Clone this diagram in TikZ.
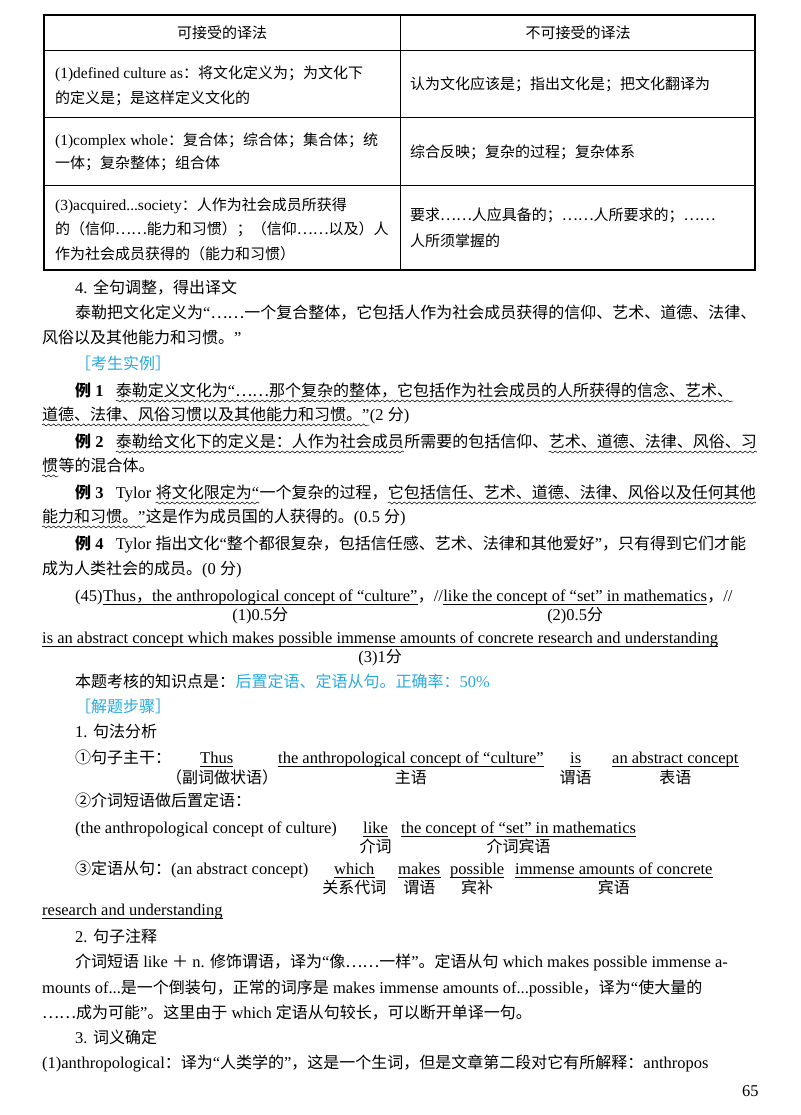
\documentclass[tikz,border=0pt]{standalone}
\usepackage{fontspec}
\usetikzlibrary{decorations.pathmorphing}
\setmainfont[Scale=1.03]{Liberation Serif}
\newfontfamily\cjkf{Noto Sans CJK SC}
\XeTeXinterchartokenstate=1
\newXeTeXintercharclass\CJKclass
\count255="4E00 \loop \XeTeXcharclass\count255=\CJKclass \advance\count255 1 \ifnum\count255<"A000 \repeat
\count255="3000 \loop \XeTeXcharclass\count255=\CJKclass \advance\count255 1 \ifnum\count255<"3040 \repeat
\count255="FF00 \loop \XeTeXcharclass\count255=\CJKclass \advance\count255 1 \ifnum\count255<"FFF0 \repeat
\XeTeXcharclass"2026=\CJKclass
\XeTeXcharclass"2460=\CJKclass \XeTeXcharclass"2461=\CJKclass \XeTeXcharclass"2462=\CJKclass
\XeTeXinterchartoks 0 \CJKclass = {\cjkf}
\XeTeXinterchartoks 4095 \CJKclass = {\cjkf}
\XeTeXinterchartoks \CJKclass 0 = {\rmfamily}
\XeTeXinterchartoks \CJKclass 4095 = {\rmfamily}
\definecolor{tblue}{RGB}{40,170,225}
\newcommand\fs{\fontsize{16}{20}\selectfont}
\newcommand\fss{\fontsize{15}{19}\selectfont}
\tikzset{
 t/.style={anchor=base west,inner sep=0pt,font=\fs},
 tc/.style={anchor=base,inner sep=0pt,font=\fs},
 ts/.style={anchor=base west,inner sep=0pt,font=\fss},
 ul/.style={line width=0.6pt},
 wv/.style={line width=0.5pt,decorate,decoration={snake,amplitude=1pt,segment length=5pt}},
 rule/.style={line width=0.7pt}
}
\newcommand\U[1]{\draw[ul] ([yshift=-3pt]#1.base west) -- ([yshift=-3pt]#1.base east);}
\newcommand\W[1]{\draw[wv] ([yshift=-5pt]#1.base west) -- ([yshift=-5pt]#1.base east);}
\newcommand\Li[1]{\textbf{例 #1}}
\begin{document}
\begin{tikzpicture}[x=1pt,y=-1pt]
\useasboundingbox (0,0) rectangle (800,1115);
% table
\draw[line width=1.2pt] (44,15) rectangle (755,270);
\draw[rule] (44,50) -- (755,50) (44,117) -- (755,117) (44,185) -- (755,185) (400,15) -- (400,270);
\node[tc,font=\fss] (h1) at (222,39) {可接受的译法};
\node[tc,font=\fss] (h2) at (578,39) {不可接受的译法};
\node[ts] (r1a) at (55,79) {(1)defined culture as：将文化定义为；为文化下};
\node[ts] (r1b) at (55,104) {的定义是；是这样定义文化的};
\node[ts] (r1c) at (410,90) {认为文化应该是；指出文化是；把文化翻译为};
\node[ts] (r2a) at (55,146) {(1)complex whole：复合体；综合体；集合体；统};
\node[ts] (r2b) at (55,169) {一体；复杂整体；组合体};
\node[ts] (r2c) at (410,158) {综合反映；复杂的过程；复杂体系};
\node[ts] (r3a) at (55,211) {(3)acquired...society：人作为社会成员所获得};
\node[ts] (r3b) at (55,235) {的（信仰……能力和习惯）；（信仰……以及）人};
\node[ts] (r3c) at (55,259) {作为社会成员获得的（能力和习惯）};
\node[ts] (r3d) at (410,221) {要求……人应具备的；……人所要求的；……};
\node[ts] (r3e) at (410,246) {人所须掌握的};
% para 4
\node[t] (p1) at (75,293) {4. 全句调整，得出译文};
\node[t] (p2) at (75,318) {泰勒把文化定义为“……一个复合整体，它包括人作为社会成员获得的信仰、艺术、道德、法律、};
\node[t] (p3) at (42,343) {风俗以及其他能力和习惯。”};
\node[t,text=tblue] (k1) at (75,369) {［考生实例］};
% ex1
\node[t] (e1a) at (75,396) {\Li{1}};
\node[t] (e1b) at ([xshift=12pt]e1a.base east) {泰勒定义文化为“……那个复杂的整体，它包括作为社会成员的人所获得的信念、艺术、};
\node[t] (e1c) at (42,420) {道德、法律、风俗习惯以及其他能力和习惯。”};
\node[t] (e1d) at (e1c.base east) {(2 分)};
\W{e1b}\W{e1c}
% ex2
\node[t] (e2a) at (75,447) {\Li{2}};
\node[t] (e2b) at ([xshift=12pt]e2a.base east) {泰勒给文化下的定义是：人作为社会成员};
\node[t] (e2c) at (e2b.base east) {所需要的包括信仰、};
\node[t] (e2d) at (e2c.base east) {艺术、道德、法律、风俗、习};
\node[t] (e2e) at (42,471) {惯};
\node[t] (e2f) at (e2e.base east) {等的混合体。};
\W{e2b}\W{e2d}\W{e2e}
% ex3
\node[t] (e3a) at (75,498) {\Li{3}};
\node[t] (e3a2) at ([xshift=12pt]e3a.base east) {Tylor};
\node[t] (e3b) at ([xshift=4pt]e3a2.base east) {将文化限定为“};
\node[t] (e3c) at (e3b.base east) {一个复杂的过程，};
\node[t] (e3d) at (e3c.base east) {它包括信任、艺术、道德、法律、风俗以及任何其他};
\node[t] (e3e) at (42,522) {能力和习惯。”};
\node[t] (e3f) at (e3e.base east) {这是作为成员国的人获得的。(0.5 分)};
\W{e3b}\W{e3d}\W{e3e}
% ex4
\node[t] (e4a) at (75,549) {\Li{4}};
\node[t] (e4c) at ([xshift=12pt]e4a.base east) {Tylor 指出文化“整个都很复杂，包括信任感、艺术、法律和其他爱好”，只有得到它们才能};
\node[t] (e4b) at (42,574) {成为人类社会的成员。(0 分)};
% (45)
\node[t] (q0) at (75,601) {(45)};
\node[t] (q1) at (q0.base east) {Thus，the anthropological concept of “culture”};
\node[t] (q2) at (q1.base east) {，//};
\node[t] (q3) at (q2.base east) {like the concept of “set” in mathematics};
\node[t] (q4) at (q3.base east) {，//};
\U{q1}\U{q3}
\node[tc] (s1) at (q1.south) [yshift=-16pt] {(1)0.5分};
\node[tc] (s2) at (q3.south) [yshift=-16pt] {(2)0.5分};
\node[t] (q5) at (42,643) {is an abstract concept which makes possible immense amounts of concrete research and understanding};
\U{q5}
\node[tc] (s3) at (q5.south) [yshift=-16pt] {(3)1分};
\node[t] (b1) at (75,687) {本题考核的知识点是：};
\node[t,text=tblue] (b2) at (b1.base east) {后置定语、定语从句。正确率：50\%};
\node[t,text=tblue] (b3) at (75,712) {［解题步骤］};
\node[t] (b4) at (75,737) {1. 句法分析};
% 1
\node[t] (c0) at (75,763) {①句子主干：};
\node[t] (c1) at (200,763) {Thus};
\node[t] (c2) at (278,763) {the anthropological concept of “culture”};
\node[t] (c3) at (570,763) {is};
\node[t] (c4) at (612,763) {an abstract concept};
\U{c1}\U{c2}\U{c3}\U{c4}
\node[tc] (l1) at (222,783) {（副词做状语）};
\node[tc] (l2) at (c2.base) [yshift=-20pt] {主语};
\node[tc] (l3) at (c3.base) [yshift=-20pt] {谓语};
\node[tc] (l4) at (c4.base) [yshift=-20pt] {表语};
\node[t] (d0) at (75,806) {②介词短语做后置定语：};
\node[t] (d1) at (75,833) {(the anthropological concept of culture)};
\node[t] (d2) at (363,833) {like};
\node[t] (d3) at (401,833) {the concept of “set” in mathematics};
\U{d2}\U{d3}
\node[tc] (m2) at (d2.base) [yshift=-19pt] {介词};
\node[tc] (m3) at (d3.base) [yshift=-19pt] {介词宾语};
\node[t] (f0) at (75,874) {③定语从句：(an abstract concept)};
\node[t] (f1) at (334,874) {which};
\node[t] (f2) at (398,874) {makes};
\node[t] (f3) at (450,874) {possible};
\node[t] (f4) at (515,874) {immense amounts of concrete};
\U{f1}\U{f2}\U{f3}\U{f4}
\node[tc] (n1) at (f1.base) [yshift=-19pt] {关系代词};
\node[tc] (n2) at (f2.base) [yshift=-19pt] {谓语};
\node[tc] (n3) at (f3.base) [yshift=-19pt] {宾补};
\node[tc] (n4) at (f4.base) [yshift=-19pt] {宾语};
\node[t] (f5) at (42,915) {research and understanding};
\U{f5}
\node[t] (g0) at (75,942) {2. 句子注释};
\node[t] (g1) at (75,967) {介词短语 like ＋ n. 修饰谓语，译为“像……一样”。定语从句 which makes possible immense a-};
\node[t] (g2) at (42,993) {mounts of...是一个倒装句，正常的词序是 makes immense amounts of...possible，译为“使大量的};
\node[t] (g3) at (42,1018) {……成为可能”。这里由于 which 定语从句较长，可以断开单译一句。};
\node[t] (g4) at (75,1043) {3. 词义确定};
\node[t] (g5) at (42,1068) {(1)anthropological：译为“人类学的”，这是一个生词，但是文章第二段对它有所解释：anthropos};
\node[t] (pg) at (742,1096) {65};
\end{tikzpicture}
\end{document}
